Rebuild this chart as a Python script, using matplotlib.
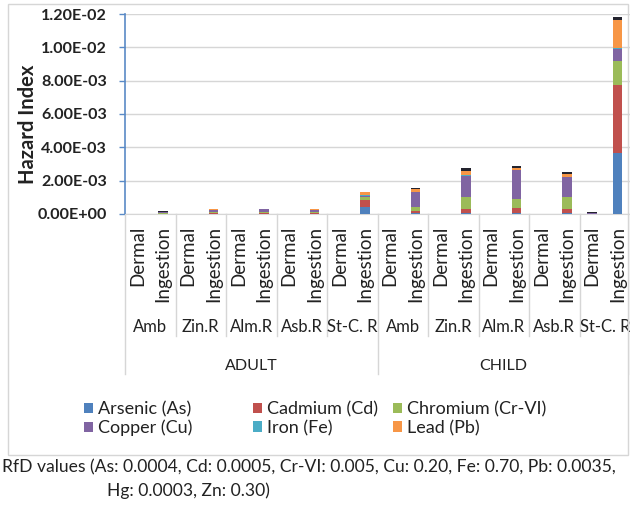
import matplotlib
matplotlib.use("Agg")
import matplotlib.pyplot as plt
from matplotlib.patches import Patch, Rectangle
import numpy as np

plt.rcParams['font.family'] = ['Lato', 'DejaVu Sans']

groups = ["ADULT", "CHILD"]
sites = ["Amb", "Zin.R", "Alm.R", "Asb.R", "St-C. R"]
routes = ["Dermal", "Ingestion"]

# hazard quotients per metal, order: group -> site -> route
arsenic = [0, 0, 0, 0.00001, 0, 0.00001, 0, 0.00001, 0, 0.00040,
           0, 0.00003, 0, 0.00005, 0, 0.00003, 0, 0.00004, 0, 0.00365]
cadmium = [0, 0.00002, 0, 0.00003, 0, 0.00003, 0, 0.00003, 0, 0.00045,
           0, 0.00012, 0, 0.00025, 0, 0.00030, 0, 0.00028, 0.00001, 0.00410]
chromium = [0, 0.00002, 0, 0.00005, 0, 0.00005, 0, 0.00006, 0, 0.00015,
            0, 0.00025, 0, 0.00070, 0, 0.00058, 0, 0.00070, 0, 0.00145]
copper = [0, 0.00009, 0, 0.00017, 0, 0.00018, 0, 0.00016, 0, 0.00010,
          0, 0.00090, 0, 0.00130, 0, 0.00170, 0, 0.00120, 0.00006, 0.00070]
iron = [0, 0, 0, 0, 0, 0, 0, 0, 0, 0.00001,
        0, 0.00001, 0, 0.00001, 0, 0.00001, 0, 0.00001, 0, 0.00006]
lead = [0, 0.00001, 0, 0.00002, 0, 0.00002, 0, 0.00002, 0, 0.00018,
        0, 0.00017, 0, 0.00025, 0, 0.00015, 0, 0.00016, 0.00001, 0.00170]
mercury = [0, 0.00001, 0, 0.00002, 0, 0.00001, 0, 0.00002, 0, 0.00002,
           0, 0.00005, 0, 0.00020, 0, 0.00012, 0, 0.00010, 0.00002, 0.00015]

series = [
    ("Arsenic (As)", arsenic, "#4F81BD"),
    ("Cadmium (Cd)", cadmium, "#C0504D"),
    ("Chromium (Cr-VI)", chromium, "#9BBB59"),
    ("Copper (Cu)", copper, "#8064A2"),
    ("Iron (Fe)", iron, "#4BACC6"),
    ("Lead (Pb)", lead, "#F79646"),
    ("Mercury (Hg)", mercury, "#23232E"),
]

yticks = [0, 0.002, 0.004, 0.006, 0.008, 0.010, 0.012]
ytick_labels = ["0.00E+00", "2.00E-03", "4.00E-03", "6.00E-03",
                "8.00E-03", "1.00E-02", "1.20E-02"]

footnote = ["RfD values (As: 0.0004, Cd: 0.0005, Cr-VI: 0.005, Cu: 0.20, Fe: 0.70, Pb: 0.0035,",
            "Hg: 0.0003, Zn: 0.30)"]

axis_blue = "#5A8AC6"
line_grey = "#D6D6D6"
text_col = "#222222"

fig = plt.figure(figsize=(6.3, 5.07), dpi=100)
ax = fig.add_axes([125 / 630, 1 - 214 / 507, 505 / 630, 200 / 507])

n = len(groups) * len(sites) * len(routes)
x = np.arange(n)
bottom = np.zeros(n)
for name, vals, col in series:
    ax.bar(x, vals, 0.37, bottom=bottom, color=col, label=name, zorder=3)
    bottom += np.array(vals)

ax.set_xlim(-0.5, n - 0.5)
ax.set_ylim(0, 0.012)
ax.set_yticks(yticks)
ax.set_yticklabels(ytick_labels, fontsize=11.6, fontweight="bold", color=text_col)
ax.set_ylabel("Hazard Index", fontsize=14.5, fontweight="bold", color=text_col,
              va="center")
ax.yaxis.set_label_coords(-0.192, 0.45)
ax.yaxis.grid(True, color=line_grey, linewidth=1, zorder=0)
ax.set_xticks([])
ax.tick_params(axis="y", direction="out", length=4, color=axis_blue, width=1, pad=9)

for side in ("top", "right"):
    ax.spines[side].set_visible(False)
ax.spines["left"].set_color(axis_blue)
ax.spines["left"].set_linewidth(1.2)
ax.spines["bottom"].set_color(line_grey)

# three-row category axis
tr = ax.get_xaxis_transform()
for i in range(n):
    ax.text(x[i], -0.06, routes[i % 2], rotation=90, ha="center", va="top",
            fontsize=13.5, color=text_col, transform=tr, clip_on=False)
for j in range(len(groups) * len(sites)):
    ax.text(2 * j + 0.5, -0.565, sites[j % len(sites)], ha="center", va="center",
            fontsize=12, color=text_col, transform=tr, clip_on=False)
for g, name in enumerate(groups):
    ax.text(g * 10 + 4.5, -0.76, name, ha="center", va="center",
            fontsize=11.5, color=text_col, transform=tr, clip_on=False)

for k in range(n // 2 + 1):
    xb = 2 * k - 0.5
    depth = -0.8 if k % len(sites) == 0 else -0.61
    ax.plot([xb, xb], [0, depth], color=line_grey, linewidth=1,
            transform=tr, clip_on=False)

# legend laid out in fixed-width columns, row by row
handles = [Patch(facecolor=c, label=nm) for nm, _, c in series[:6]]
col_x = [84, 253, 393]
for c, xpos in enumerate(col_x):
    fig.legend(handles=[handles[c], handles[c + 3]], loc="upper left",
               bbox_to_anchor=(xpos / 630, 1 - 401 / 507), frameon=False,
               borderpad=0, borderaxespad=0, fontsize=13,
               handlelength=0.5, handleheight=0.5, handletextpad=0.3,
               labelspacing=0.15, labelcolor=text_col)

# chart area border
fig.patches.append(Rectangle((8 / 630, 1 - 455 / 507), 620 / 630, 451 / 507,
                             transform=fig.transFigure, fill=False,
                             edgecolor=line_grey, linewidth=1))

fig.text(2 / 630, 1 - 467 / 507, footnote[0], fontsize=12.6, color=text_col, va="center")
fig.text(107 / 630, 1 - 491 / 507, footnote[1], fontsize=12.6, color=text_col, va="center")

fig.savefig("out.png", dpi=100)
